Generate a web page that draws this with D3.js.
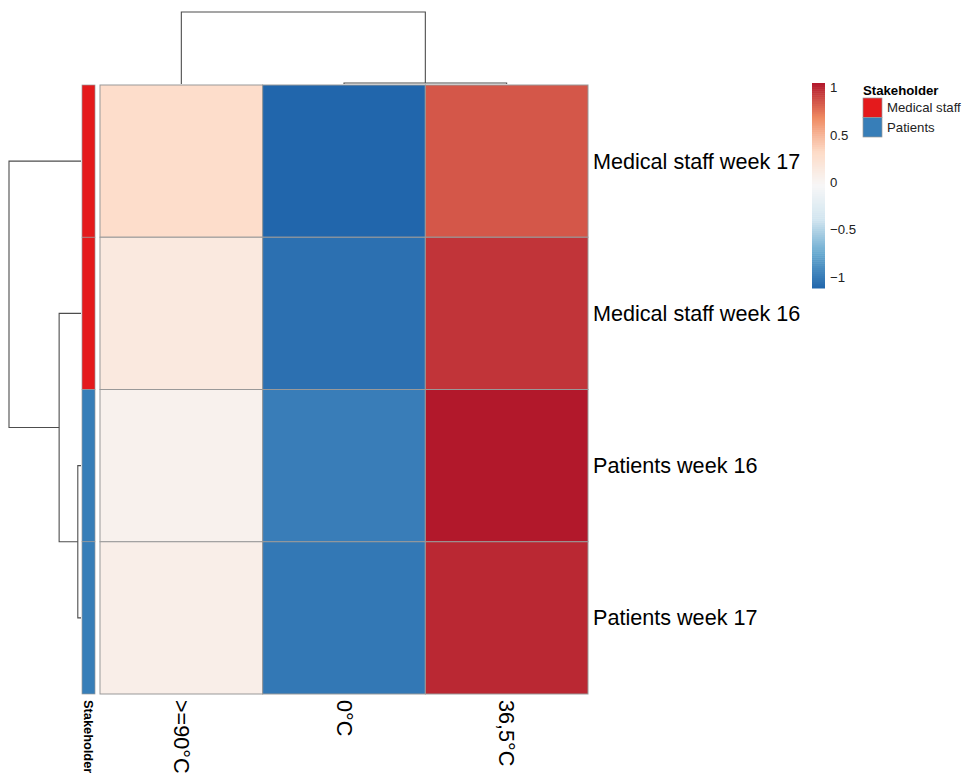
<!DOCTYPE html>
<html>
<head>
<meta charset="utf-8">
<script src="https://cdn.jsdelivr.net/npm/d3@7"></script>
<style>
  body { margin: 0; background: #fff; }
  text { font-family: "Liberation Sans", Arial, sans-serif; }
</style>
</head>
<body>
<figure id="heat" style="margin:0"></figure>
<script>
// rows / columns as shown (already in dendrogram order)
const rowNames = ["Medical staff week 17", "Medical staff week 16", "Patients week 16", "Patients week 17"];
const colNames = [">=90°C", "0°C", "36,5°C"];
const stakeholder = ["Medical staff", "Medical staff", "Patients", "Patients"];
const stakeholderLevels = ["Medical staff", "Patients"];
const stakeholderColors = ["#E41A1C", "#377EB8"];

// row-scaled values, one array per row
const msWeek17 = [0.30, -1.115, 0.85];
const msWeek16 = [0.15, -1.06, 0.96];
const ptWeek16 = [0.04, -0.99, 1.05];
const ptWeek17 = [0.08, -1.02, 1.0];
const values = [msWeek17, msWeek16, ptWeek16, ptWeek17];

// dendrograms, hclust style: negative = leaf (1-based), positive = earlier merge
const rowMerge = [[-3, -4], [-2, 1], [-1, 2]];
const rowHeight = [0.06, 0.41, 1.35];
const colMerge = [[-2, -3], [-1, 1]];
const colHeight = [0.02, 1.45];

const legendTicks = [1, 0.5, 0, -0.5, -1];
const palette = ["#2166AC", "#67A9CF", "#D1E5F0", "#F7F7F7", "#FDDBC7", "#EF8A62", "#B2182B"];

const width = 963, height = 774;
const hm = { left: 100, top: 85, right: 588, bottom: 694 };

const svg = d3.select("figure#heat")
  .append("svg")
  .attr("width", width)
  .attr("height", height);

svg.append("rect").attr("width", width).attr("height", height).attr("fill", "#fff");

const x = d3.scaleBand().domain(colNames).range([hm.left, hm.right]);
const y = d3.scaleBand().domain(rowNames).range([hm.top, hm.bottom]);

const flat = values.flat();
const ext = d3.extent(flat);
const color = d3.scaleLinear()
  .domain(palette.map((c, i) => ext[0] + i * (ext[1] - ext[0]) / (palette.length - 1)))
  .range(palette)
  .interpolate(d3.interpolateRgb);

// cells
const cells = [];
values.forEach((row, i) => row.forEach((v, j) => cells.push({ r: rowNames[i], c: colNames[j], v: v })));

svg.selectAll("rect.cell")
  .data(cells)
  .enter()
  .append("rect")
  .attr("class", "cell")
  .attr("x", d => x(d.c))
  .attr("y", d => y(d.r))
  .attr("width", x.bandwidth())
  .attr("height", y.bandwidth())
  .attr("fill", d => color(d.v))
  .attr("stroke", "#999")
  .attr("stroke-width", 1);

// stakeholder annotation bar
const annX = 82, annW = 13;
const annColor = d3.scaleOrdinal().domain(stakeholderLevels).range(stakeholderColors);
svg.selectAll("rect.ann")
  .data(rowNames)
  .enter()
  .append("rect")
  .attr("class", "ann")
  .attr("x", annX)
  .attr("y", d => y(d))
  .attr("width", annW)
  .attr("height", y.bandwidth())
  .attr("fill", (d, i) => annColor(stakeholder[i]))
  .attr("stroke", "#999")
  .attr("stroke-width", 0.7);

// row labels
svg.selectAll("text.rowlab")
  .data(rowNames)
  .enter()
  .append("text")
  .attr("class", "rowlab")
  .attr("x", hm.right + 5)
  .attr("y", d => y(d) + y.bandwidth() / 2)
  .attr("dominant-baseline", "central")
  .style("font-size", "21.6px")
  .style("fill", "#000")
  .text(d => d);

// column labels, rotated to read downward
svg.selectAll("text.collab")
  .data(colNames)
  .enter()
  .append("text")
  .attr("class", "collab")
  .attr("transform", d => "translate(" + (x(d) + x.bandwidth() / 2) + "," + (hm.bottom + 6) + ") rotate(90)")
  .attr("dominant-baseline", "central")
  .style("font-size", "21.6px")
  .style("fill", "#000")
  .text(d => d);

svg.append("text")
  .attr("transform", "translate(" + (annX + annW / 2) + "," + (hm.bottom + 6) + ") rotate(90)")
  .attr("dominant-baseline", "central")
  .style("font-size", "12.8px")
  .style("font-weight", "bold")
  .text("Stakeholder");

// dendrogram helper: draws the elbows for each merge
function drawDendro(merge, heights, leafPos, hScale, vertical) {
  const nodes = [];
  const pt = (ref) => ref < 0 ? { p: leafPos[-ref - 1], h: 0 } : nodes[ref - 1];
  merge.forEach((m, k) => {
    const a = pt(m[0]), b = pt(m[1]);
    const h = heights[k];
    nodes.push({ p: (a.p + b.p) / 2, h: h });
    const line = [[a.p, a.h], [a.p, h], [b.p, h], [b.p, b.h]];
    const path = d3.line()
      .x(d => vertical ? d[0] : hScale(d[1]))
      .y(d => vertical ? hScale(d[1]) : d[0]);
    svg.append("path")
      .attr("d", path(line))
      .attr("fill", "none")
      .attr("stroke", "#4d4d4d")
      .attr("stroke-width", 1.1);
  });
}

const rowDendroScale = d3.scaleLinear().domain([0, d3.max(rowHeight)]).range([81, 9]);
drawDendro(rowMerge, rowHeight, rowNames.map(d => y(d) + y.bandwidth() / 2), rowDendroScale, false);

const colDendroScale = d3.scaleLinear().domain([0, d3.max(colHeight)]).range([84, 12]);
drawDendro(colMerge, colHeight, colNames.map(d => x(d) + x.bandwidth() / 2), colDendroScale, true);

// colour legend
const lg = { x: 812, w: 13, top: 83, bottom: 288 };
const ly = d3.scaleLinear().domain(ext).range([lg.bottom, lg.top]);
const nSteps = 100;
const stepVals = d3.range(nSteps).map(i => ext[0] + (i + 0.5) * (ext[1] - ext[0]) / nSteps);
const stepH = (lg.bottom - lg.top) / nSteps;
svg.selectAll("rect.lgstep")
  .data(stepVals)
  .enter()
  .append("rect")
  .attr("class", "lgstep")
  .attr("x", lg.x)
  .attr("y", (d, i) => lg.bottom - (i + 1) * stepH)
  .attr("width", lg.w)
  .attr("height", stepH + 0.5)
  .attr("fill", d => color(d));

svg.selectAll("text.lgtick")
  .data(legendTicks)
  .enter()
  .append("text")
  .attr("class", "lgtick")
  .attr("x", lg.x + lg.w + 5)
  .attr("y", d => ly(d))
  .attr("dominant-baseline", "central")
  .style("font-size", "13.2px")
  .style("fill", "#222")
  .text(d => d3.format("")(d).replace("-", "\u2212"));

// annotation legend
const al = { x: 863, y: 98, s: 19.5 };
svg.append("text")
  .attr("x", al.x)
  .attr("y", al.y - 8)
  .attr("dominant-baseline", "central")
  .style("font-size", "13.2px")
  .style("font-weight", "bold")
  .text("Stakeholder");

svg.selectAll("rect.alsw")
  .data(stakeholderLevels)
  .enter()
  .append("rect")
  .attr("class", "alsw")
  .attr("x", al.x)
  .attr("y", (d, i) => al.y + i * al.s)
  .attr("width", 19)
  .attr("height", al.s)
  .attr("fill", d => annColor(d))
  .attr("stroke", "#999")
  .attr("stroke-width", 0.7);

svg.selectAll("text.altext")
  .data(stakeholderLevels)
  .enter()
  .append("text")
  .attr("class", "altext")
  .attr("x", al.x + 24)
  .attr("y", (d, i) => al.y + i * al.s + al.s / 2)
  .attr("dominant-baseline", "central")
  .style("font-size", "13.2px")
  .style("fill", "#222")
  .text(d => d);
</script>
</body>
</html>
